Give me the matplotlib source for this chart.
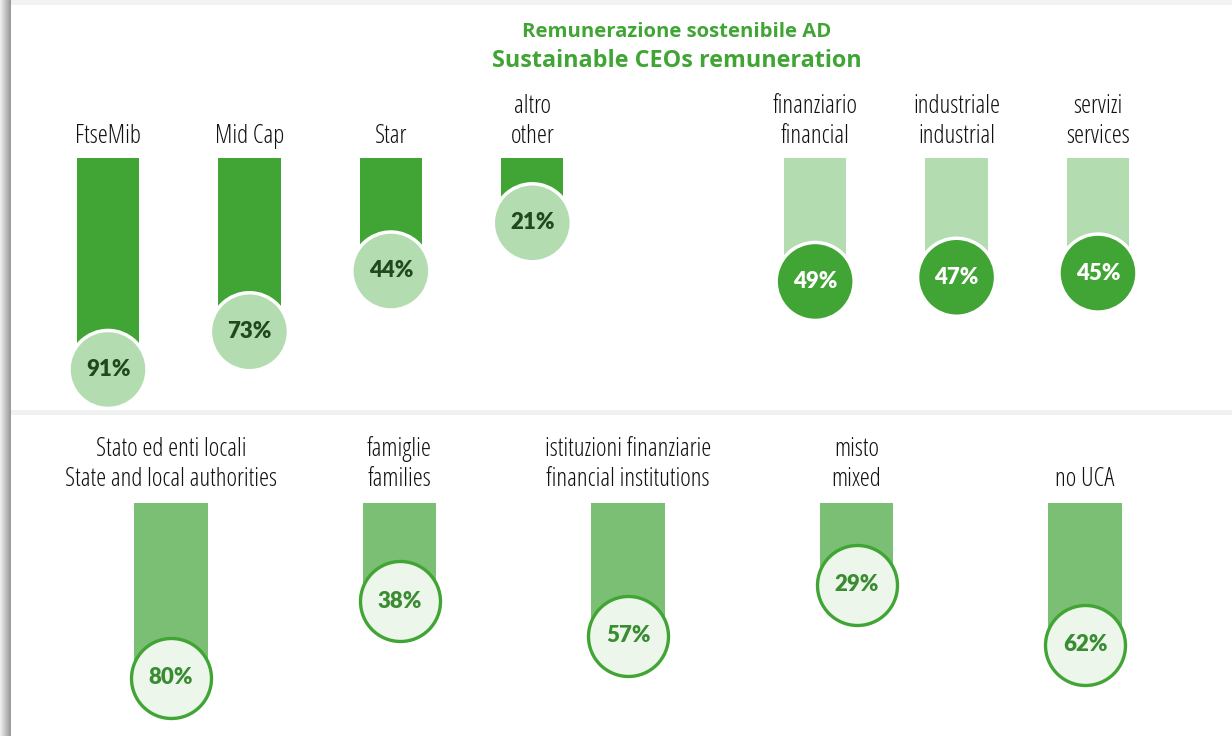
import matplotlib
matplotlib.use("Agg")
import matplotlib.pyplot as plt
import matplotlib.transforms as mtransforms
import numpy as np

# dati
top_labels = ["FtseMib", "Mid Cap", "Star", "altro\nother",
              "finanziario\nfinancial", "industriale\nindustrial", "servizi\nservices"]
top_pos = [0, 1, 2, 3, 5, 6, 7]
top_values = [91, 73, 44, 21, 49, 47, 45]
top_dark = [True, True, True, True, False, False, False]

bot_labels = ["Stato ed enti locali\nState and local authorities", "famiglie\nfamilies",
              "istituzioni finanziarie\nfinancial institutions", "misto\nmixed", "no UCA"]
bot_values = [80, 38, 57, 29, 62]

title_it = "Remunerazione sostenibile AD"
title_en = "Sustainable CEOs remuneration"

GREEN = "#41A535"
LIGHT = "#B3DDB0"
MID = "#7ABF73"
PALE = "#ECF6EA"
TXT_DARK = "#1F4A1F"
TXT_MID = "#3A8C33"

W, H = 1232, 736
fig = plt.figure(figsize=(W / 100, H / 100), dpi=100)
fig.patch.set_facecolor("white")

label_font = ["Open Sans", "DejaVu Sans"]
pct_font = ["Lato", "DejaVu Sans"]


def fy(py):
    return 1 - py / H


def px_axes(x0, x1, y0, y1):
    return fig.add_axes([x0 / W, 1 - y1 / H, (x1 - x0) / W, (y1 - y0) / H])


# sfondo: ombra a sinistra, bordo in alto, separatore
bg = fig.add_axes([0, 0, 1, 1], zorder=-5)
bg.set_xlim(0, W)
bg.set_ylim(H, 0)
bg.axis("off")
grad = np.linspace(0.93, 0.6, 12)[None, :]
bg.imshow(grad, cmap="gray", vmin=0, vmax=1, extent=[0, 11, H, 0], aspect="auto")
bg.add_patch(plt.Rectangle((11, 0), W, 5, color="#F2F2F2", lw=0))
bg.add_patch(plt.Rectangle((11, 410), W, 5, color="#F1F1F1", lw=0))

# titolo
fig.text(677 / W, fy(32), title_it, ha="center", va="center", color=GREEN,
         fontsize=14.6, fontweight="bold", family=["Open Sans", "DejaVu Sans"])
fig.text(677 / W, fy(61), title_en, ha="center", va="center", color=GREEN,
         fontsize=16.8, fontweight="bold", family=["Open Sans", "DejaVu Sans"])

# pannello superiore: pixel y = 178.8 + 2.095 * v
k_top, off_top = 2.095, 178.8
base_top = (158 - off_top) / k_top
ax1 = px_axes(108 - 70.7, 1098 + 70.7, 150, 412)
ax1.set_xlim(-0.5, 7.5)
ax1.set_ylim((412 - off_top) / k_top, (150 - off_top) / k_top)
ax1.axis("off")

bar_c = [GREEN if d else LIGHT for d in top_dark]
dot_c = [LIGHT if d else GREEN for d in top_dark]
txt_c = [TXT_DARK if d else "white" for d in top_dark]
ax1.bar(top_pos, [v - base_top for v in top_values], bottom=base_top, width=0.44,
        color=bar_c, zorder=1)
d_pt = 78 * 72 / 100
ax1.scatter(top_pos, top_values, s=d_pt ** 2, c=dot_c, edgecolors="white",
            linewidths=2.5, zorder=2, clip_on=False)
for x, v, c in zip(top_pos, top_values, txt_c):
    ax1.text(x, v, f"{v}%", ha="center", va="center", color=c, fontsize=16,
             fontweight="heavy", family=pct_font, zorder=3)
tr1 = mtransforms.blended_transform_factory(ax1.transData, fig.transFigure)
for x, lab in zip(top_pos, top_labels):
    ax1.text(x, fy(149), lab, transform=tr1, ha="center", va="bottom",
             fontsize=18.3, family=label_font, fontstretch="condensed",
             fontweight="normal", linespacing=1.25, color="#111111")

# pannello inferiore: pixel y = 532.3 + 1.817 * v
k_bot, off_bot = 1.817, 532.3
base_bot = (503 - off_bot) / k_bot
ax2 = px_axes(171 - 114.25, 1085 + 114.25, 495, 730)
ax2.set_xlim(-0.5, 4.5)
ax2.set_ylim((730 - off_bot) / k_bot, (495 - off_bot) / k_bot)
ax2.axis("off")
bot_pos = list(range(len(bot_values)))
ax2.bar(bot_pos, [v - base_bot for v in bot_values], bottom=base_bot, width=0.32,
        color=MID, zorder=1)
d2_pt = 80 * 72 / 100
ax2.scatter(bot_pos, bot_values, s=d2_pt ** 2, c=PALE, edgecolors=GREEN,
            linewidths=2.4, zorder=2, clip_on=False)
for x, v in zip(bot_pos, bot_values):
    ax2.text(x, v, f"{v}%", ha="center", va="center", color=TXT_MID, fontsize=16,
             fontweight="heavy", family=pct_font, zorder=3)
tr2 = mtransforms.blended_transform_factory(ax2.transData, fig.transFigure)
for x, lab in zip(bot_pos, bot_labels):
    ax2.text(x, fy(492), lab, transform=tr2, ha="center", va="bottom",
             fontsize=18.3, family=label_font, fontstretch="condensed",
             fontweight="normal", linespacing=1.25, color="#111111")

fig.savefig("out.png", dpi=100)
